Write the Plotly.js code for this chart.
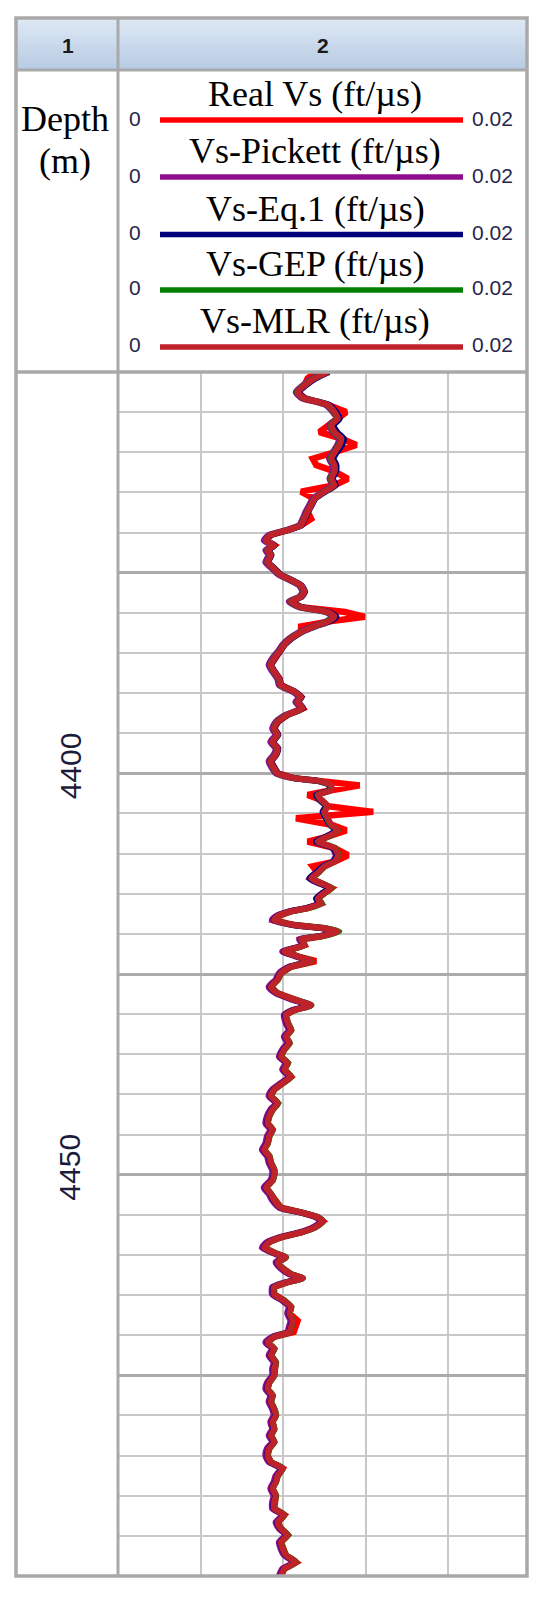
<!DOCTYPE html>
<html><head><meta charset="utf-8">
<script src="https://cdn.plot.ly/plotly-3.0.1.min.js"></script>
<style>html,body{margin:0;padding:0;background:#fff}#chart{width:550px;height:1598px}</style>
</head><body><div id="chart"></div>
<script>
// Depth (m)
const depth = [
4350.0,4350.8,4351.7,4352.5,4353.3,4353.7,4354.1,4355.0,4355.8,4356.6,
4357.5,4358.3,4359.1,4360.0,4360.8,4361.6,4362.4,4363.3,4364.1,4364.9,
4365.8,4366.6,4367.4,4368.3,4369.1,4369.7,4370.3,4371.0,4371.6,4372.2,
4372.8,4373.7,4374.5,4375.3,4375.9,4376.6,4377.4,4378.0,4378.6,4379.3,
4379.9,4380.5,4381.1,4381.7,4382.4,4383.2,4384.0,4384.9,4385.7,4386.5,
4387.3,4388.2,4389.0,4389.8,4390.5,4391.1,4391.9,4392.7,4393.6,4394.4,
4395.2,4396.1,4396.9,4397.7,4398.5,4399.4,4400.0,4400.6,4401.0,4401.5,
4402.1,4402.7,4403.3,4404.1,4404.8,4405.6,4406.4,4407.1,4407.9,4408.5,
4409.3,4410.2,4411.0,4411.6,4412.4,4413.1,4413.7,4414.3,4414.9,4415.6,
4416.2,4416.8,4417.2,4417.8,4418.3,4418.9,4419.3,4419.7,4420.3,4420.7,
4421.4,4422.2,4422.8,4423.4,4424.1,4424.9,4425.7,4426.6,4427.4,4428.2,
4428.9,4429.5,4430.1,4431.1,4432.0,4432.8,4433.6,4434.4,4435.3,4436.1,
4436.9,4437.8,4438.6,4439.4,4440.2,4441.1,4441.9,4442.7,4443.6,4444.4,
4445.2,4446.1,4446.9,4447.7,4448.5,4449.4,4450.0,4450.7,4451.6,4452.4,
4453.2,4454.1,4454.7,4455.3,4455.8,4456.6,4457.2,4457.8,4458.4,4459.1,
4459.9,4460.3,4460.9,4461.5,4462.4,4462.9,4463.4,4464.0,4464.9,4465.7,
4466.5,4467.3,4468.2,4469.0,4469.6,4470.2,4470.9,4471.7,4472.5,4473.4,
4474.2,4475.0,4475.9,4476.7,4477.5,4478.3,4479.2,4480.0,4480.8,4481.7,
4482.5,4483.3,4484.1,4485.0,4485.8,4486.6,4487.5,4488.3,4489.1,4490.0,
4490.8,4491.6,4492.4,4493.3,4494.1,4494.9,4495.8,4496.6,4497.4,4498.3,
4499.1,4500.0];

// Real Vs (ft/us)
const realVs = [
0.00960,0.00918,0.00902,0.00869,0.00906,0.00967,0.01016,0.01106,0.01065,0.01033,
0.00975,0.01082,0.01155,0.01049,0.00943,0.00960,0.01049,0.01114,0.01049,0.00886,
0.00951,0.00935,0.00918,0.00935,0.00886,0.00821,0.00739,0.00715,0.00755,0.00723,
0.00739,0.00723,0.00755,0.00788,0.00837,0.00886,0.00902,0.00886,0.00837,0.00886,
0.01100,0.01196,0.01016,0.00886,0.00886,0.00837,0.00804,0.00780,0.00755,0.00739,
0.00755,0.00780,0.00788,0.00853,0.00886,0.00869,0.00894,0.00821,0.00772,0.00755,
0.00772,0.00747,0.00772,0.00763,0.00739,0.00755,0.00772,0.00853,0.00984,0.01171,
0.01033,0.00918,0.00984,0.01016,0.01237,0.00861,0.01033,0.01106,0.01016,0.00918,
0.01049,0.01114,0.01049,0.00943,0.00967,0.00935,0.00984,0.01033,0.01000,0.00967,
0.00984,0.00918,0.00837,0.00772,0.00755,0.00853,0.01000,0.01065,0.00984,0.00886,
0.00902,0.00804,0.00869,0.00959,0.00837,0.00788,0.00772,0.00739,0.00772,0.00853,
0.00935,0.00853,0.00812,0.00821,0.00837,0.00812,0.00829,0.00804,0.00788,0.00821,
0.00804,0.00837,0.00796,0.00755,0.00739,0.00772,0.00747,0.00731,0.00723,0.00747,
0.00731,0.00723,0.00706,0.00731,0.00739,0.00755,0.00755,0.00747,0.00715,0.00739,
0.00755,0.00788,0.00886,0.00967,0.00992,0.00951,0.00886,0.00788,0.00731,0.00706,
0.00772,0.00812,0.00772,0.00788,0.00837,0.00894,0.00821,0.00755,0.00755,0.00804,
0.00837,0.00829,0.00869,0.00861,0.00850,0.00755,0.00723,0.00755,0.00739,0.00763,
0.00755,0.00755,0.00731,0.00723,0.00747,0.00739,0.00755,0.00763,0.00747,0.00755,
0.00739,0.00755,0.00731,0.00723,0.00739,0.00796,0.00772,0.00763,0.00747,0.00763,
0.00755,0.00755,0.00804,0.00772,0.00788,0.00821,0.00788,0.00796,0.00812,0.00861,
0.00804,0.00788];

// Vs-Pickett (ft/us)
const vsPickett = [
0.01008,0.00940,0.00893,0.00860,0.00890,0.00955,0.01005,0.01040,0.01058,0.01024,
0.01040,0.01070,0.01062,0.01040,0.01022,0.01038,0.01040,0.01024,0.01038,0.00992,
0.00942,0.00925,0.00908,0.00893,0.00876,0.00812,0.00728,0.00704,0.00745,0.00712,
0.00728,0.00712,0.00744,0.00778,0.00826,0.00876,0.00892,0.00876,0.00826,0.00874,
0.01004,0.01038,0.01006,0.00942,0.00876,0.00828,0.00794,0.00770,0.00744,0.00728,
0.00745,0.00770,0.00778,0.00842,0.00876,0.00858,0.00884,0.00812,0.00762,0.00745,
0.00762,0.00736,0.00762,0.00752,0.00728,0.00745,0.00762,0.00842,0.00972,0.01022,
0.01024,0.00958,0.00974,0.01006,0.00990,0.01006,0.01024,0.01054,0.01006,0.00958,
0.01038,0.01054,0.01040,0.00990,0.00958,0.00925,0.00972,0.01022,0.00990,0.00958,
0.00974,0.00908,0.00826,0.00762,0.00744,0.00842,0.00988,0.01054,0.00974,0.00876,
0.00892,0.00794,0.00858,0.00924,0.00826,0.00778,0.00762,0.00728,0.00762,0.00842,
0.00924,0.00842,0.00802,0.00810,0.00826,0.00802,0.00818,0.00794,0.00778,0.00810,
0.00794,0.00826,0.00786,0.00744,0.00728,0.00762,0.00736,0.00720,0.00712,0.00736,
0.00720,0.00712,0.00695,0.00720,0.00728,0.00745,0.00745,0.00736,0.00704,0.00728,
0.00745,0.00778,0.00876,0.00956,0.00982,0.00940,0.00876,0.00778,0.00720,0.00695,
0.00762,0.00802,0.00762,0.00778,0.00826,0.00884,0.00810,0.00745,0.00745,0.00794,
0.00826,0.00818,0.00834,0.00826,0.00818,0.00745,0.00712,0.00745,0.00728,0.00752,
0.00745,0.00745,0.00720,0.00712,0.00736,0.00728,0.00745,0.00752,0.00736,0.00745,
0.00728,0.00745,0.00720,0.00712,0.00728,0.00786,0.00762,0.00752,0.00736,0.00752,
0.00745,0.00745,0.00794,0.00762,0.00778,0.00810,0.00778,0.00786,0.00802,0.00850,
0.00794,0.00778];

// Vs-Eq.1 (ft/us)
const vsEq1 = [
0.01022,0.00958,0.00908,0.00874,0.00906,0.00972,0.01024,0.01058,0.01074,0.01045,
0.01062,0.01094,0.01086,0.01060,0.01044,0.01058,0.01056,0.01040,0.01055,0.01006,
0.00955,0.00938,0.00921,0.00905,0.00889,0.00824,0.00742,0.00718,0.00758,0.00726,
0.00742,0.00726,0.00758,0.00791,0.00840,0.00889,0.00905,0.00890,0.00840,0.00890,
0.01022,0.01058,0.01024,0.00956,0.00890,0.00840,0.00806,0.00782,0.00757,0.00741,
0.00757,0.00782,0.00790,0.00856,0.00889,0.00872,0.00897,0.00824,0.00775,0.00758,
0.00775,0.00750,0.00775,0.00766,0.00742,0.00758,0.00775,0.00855,0.00980,0.01026,
0.01026,0.00958,0.00976,0.01008,0.00992,0.01008,0.01026,0.01058,0.01008,0.00958,
0.01042,0.01060,0.01042,0.00992,0.00958,0.00926,0.00976,0.01026,0.00992,0.00960,
0.00978,0.00912,0.00834,0.00770,0.00753,0.00850,0.00996,0.01062,0.00980,0.00884,
0.00900,0.00802,0.00866,0.00930,0.00834,0.00786,0.00770,0.00737,0.00770,0.00850,
0.00930,0.00850,0.00810,0.00819,0.00835,0.00810,0.00827,0.00802,0.00786,0.00819,
0.00802,0.00835,0.00794,0.00753,0.00737,0.00770,0.00745,0.00729,0.00721,0.00745,
0.00729,0.00721,0.00704,0.00729,0.00737,0.00753,0.00753,0.00745,0.00713,0.00737,
0.00753,0.00786,0.00884,0.00965,0.00990,0.00949,0.00884,0.00786,0.00729,0.00704,
0.00770,0.00810,0.00770,0.00786,0.00835,0.00892,0.00819,0.00753,0.00753,0.00802,
0.00835,0.00827,0.00843,0.00835,0.00827,0.00753,0.00721,0.00753,0.00737,0.00761,
0.00753,0.00753,0.00729,0.00721,0.00745,0.00737,0.00753,0.00761,0.00745,0.00753,
0.00737,0.00753,0.00729,0.00721,0.00737,0.00794,0.00770,0.00761,0.00745,0.00761,
0.00753,0.00753,0.00802,0.00770,0.00786,0.00819,0.00786,0.00794,0.00810,0.00859,
0.00802,0.00786];

// Vs-GEP (ft/us)
const vsGEP = [
0.01012,0.00948,0.00900,0.00866,0.00900,0.00964,0.01013,0.01046,0.01061,0.01030,
0.01046,0.01078,0.01070,0.01046,0.01030,0.01046,0.01046,0.01030,0.01046,0.00998,
0.00950,0.00934,0.00917,0.00900,0.00884,0.00820,0.00738,0.00714,0.00753,0.00722,
0.00738,0.00722,0.00753,0.00786,0.00835,0.00884,0.00900,0.00884,0.00835,0.00884,
0.01012,0.01044,0.01012,0.00948,0.00884,0.00835,0.00802,0.00778,0.00753,0.00738,
0.00753,0.00778,0.00786,0.00851,0.00884,0.00868,0.00892,0.00820,0.00770,0.00753,
0.00770,0.00746,0.00770,0.00761,0.00738,0.00753,0.00770,0.00851,0.00980,0.01030,
0.01030,0.00966,0.00982,0.01013,0.00998,0.01013,0.01030,0.01066,0.01018,0.00970,
0.01052,0.01068,0.01050,0.01002,0.00970,0.00938,0.00986,0.01036,0.01003,0.00970,
0.00988,0.00922,0.00840,0.00774,0.00756,0.00855,0.01006,0.01072,0.00988,0.00888,
0.00904,0.00806,0.00871,0.00937,0.00839,0.00790,0.00774,0.00741,0.00774,0.00855,
0.00937,0.00855,0.00814,0.00823,0.00839,0.00814,0.00831,0.00806,0.00790,0.00823,
0.00806,0.00839,0.00798,0.00757,0.00741,0.00774,0.00749,0.00733,0.00725,0.00749,
0.00733,0.00725,0.00708,0.00733,0.00741,0.00757,0.00757,0.00749,0.00717,0.00741,
0.00757,0.00790,0.00888,0.00969,0.00994,0.00953,0.00888,0.00790,0.00733,0.00708,
0.00774,0.00814,0.00774,0.00790,0.00839,0.00896,0.00823,0.00757,0.00757,0.00806,
0.00839,0.00831,0.00847,0.00839,0.00831,0.00757,0.00725,0.00757,0.00741,0.00765,
0.00757,0.00757,0.00733,0.00725,0.00749,0.00741,0.00757,0.00765,0.00749,0.00757,
0.00741,0.00757,0.00733,0.00725,0.00741,0.00798,0.00774,0.00765,0.00749,0.00765,
0.00757,0.00757,0.00806,0.00774,0.00790,0.00823,0.00790,0.00798,0.00814,0.00863,
0.00806,0.00790];

// Vs-MLR (ft/us)
const vsMLR = [
0.01016,0.00951,0.00902,0.00869,0.00902,0.00967,0.01016,0.01049,0.01065,0.01033,
0.01049,0.01082,0.01073,0.01049,0.01033,0.01049,0.01049,0.01033,0.01049,0.01000,
0.00951,0.00935,0.00918,0.00902,0.00886,0.00821,0.00739,0.00715,0.00755,0.00723,
0.00739,0.00723,0.00755,0.00788,0.00837,0.00886,0.00902,0.00886,0.00837,0.00886,
0.01016,0.01049,0.01016,0.00951,0.00886,0.00837,0.00804,0.00780,0.00755,0.00739,
0.00755,0.00780,0.00788,0.00853,0.00886,0.00869,0.00894,0.00821,0.00772,0.00755,
0.00772,0.00747,0.00772,0.00763,0.00739,0.00755,0.00772,0.00853,0.00984,0.01033,
0.01033,0.00967,0.00984,0.01016,0.01000,0.01016,0.01033,0.01065,0.01016,0.00967,
0.01049,0.01065,0.01049,0.01000,0.00967,0.00935,0.00984,0.01033,0.01000,0.00967,
0.00984,0.00918,0.00837,0.00772,0.00755,0.00853,0.01000,0.01065,0.00984,0.00886,
0.00902,0.00804,0.00869,0.00935,0.00837,0.00788,0.00772,0.00739,0.00772,0.00853,
0.00935,0.00853,0.00812,0.00821,0.00837,0.00812,0.00829,0.00804,0.00788,0.00821,
0.00804,0.00837,0.00796,0.00755,0.00739,0.00772,0.00747,0.00731,0.00723,0.00747,
0.00731,0.00723,0.00706,0.00731,0.00739,0.00755,0.00755,0.00747,0.00715,0.00739,
0.00755,0.00788,0.00886,0.00967,0.00992,0.00951,0.00886,0.00788,0.00731,0.00706,
0.00772,0.00812,0.00772,0.00788,0.00837,0.00894,0.00821,0.00755,0.00755,0.00804,
0.00837,0.00829,0.00845,0.00837,0.00829,0.00755,0.00723,0.00755,0.00739,0.00763,
0.00755,0.00755,0.00731,0.00723,0.00747,0.00739,0.00755,0.00763,0.00747,0.00755,
0.00739,0.00755,0.00731,0.00723,0.00739,0.00796,0.00772,0.00763,0.00747,0.00763,
0.00755,0.00755,0.00804,0.00772,0.00788,0.00821,0.00788,0.00796,0.00812,0.00861,
0.00804,0.00788];

const seriesNames = ['Real Vs (ft/µs)', 'Vs-Pickett (ft/µs)', 'Vs-Eq.1 (ft/µs)', 'Vs-GEP (ft/µs)', 'Vs-MLR (ft/µs)'];
const seriesValues = [realVs, vsPickett, vsEq1, vsGEP, vsMLR];
const seriesColors = ['#ff0000', '#8e0c8e', '#00007a', '#008000', '#bf222a'];
const scaleLeft = '0', scaleRight = '0.02';
const depthLabels = [4400, 4450];
const headerLabels = ['1', '2'];

const W = 550, H = 1598;
const px = x => x / W, py = y => 1 - y / H;
const border = '#a9a9a9';

const traces = seriesValues.map((v, i) => ({
  type: 'scatter', mode: 'lines', x: v, y: depth, name: seriesNames[i],
  line: i === 0 ? {color: seriesColors[i], width: 6.5}
                : {color: seriesColors[i], width: 6, shape: 'spline', smoothing: 0.6},
  hoverinfo: 'skip', showlegend: false
}));

const shapes = [];
// header gradient band
const nStrips = 16, hTop = 19, hBot = 70;
const c0 = [221, 232, 244], c1 = [184, 204, 228];
for (let k = 0; k < nStrips; k++) {
  const t = k / (nStrips - 1);
  const c = c0.map((a, j) => Math.round(a + (c1[j] - a) * t));
  shapes.push({type: 'rect', xref: 'paper', yref: 'paper', layer: 'below',
    x0: px(16), x1: px(527), y0: py(hTop + (hBot - hTop) * k / nStrips - 0.6), y1: py(hTop + (hBot - hTop) * (k + 1) / nStrips + 0.6),
    fillcolor: `rgb(${c[0]},${c[1]},${c[2]})`, line: {width: 0}});
}
// mask grid overhang right of the frame
shapes.push({type: 'rect', xref: 'paper', yref: 'paper', x0: px(528), x1: px(540), y0: py(372), y1: py(1580),
  fillcolor: '#fff', line: {width: 0}});
const hline = (y, x0, x1, w, col) => shapes.push({type: 'line', xref: 'paper', yref: 'paper', x0: px(x0), x1: px(x1), y0: py(y), y1: py(y), line: {color: col || border, width: w}});
const vline = (x, y0, y1, w, col) => shapes.push({type: 'line', xref: 'paper', yref: 'paper', x0: px(x), x1: px(x), y0: py(y0), y1: py(y1), line: {color: col || border, width: w}});
hline(70, 16, 527, 3);
hline(372, 16, 527, 3.5);
vline(118, 18, 1576, 3);
shapes.push({type: 'rect', xref: 'paper', yref: 'paper', x0: px(16), x1: px(527), y0: py(18), y1: py(1576), line: {color: border, width: 3.5}});

const legendY = [120, 177, 234.5, 290, 347];
const annotations = [];
const serif = 'Liberation Serif, Times New Roman, serif';
const sans = 'Liberation Sans, Arial, sans-serif';
const note = (x, y, text, font, extra) => annotations.push(Object.assign({xref: 'paper', yref: 'paper', x: px(x), y: py(y),
  text, showarrow: false, xanchor: 'center', yanchor: 'middle', font}, extra || {}));
legendY.forEach((y, i) => {
  hline(y, 160, 463, 5.5, seriesColors[i]);
  note(315, y - 26, seriesNames[i], {family: serif, size: 36, color: '#000'});
  note(135, y - 2, scaleLeft, {family: sans, size: 21, color: '#26264a'});
  note(492, y - 2, scaleRight, {family: sans, size: 21, color: '#26264a'});
});
note(68, 46, headerLabels[0], {family: sans, size: 21, color: '#1a1a1a', weight: 'bold'});
note(323, 46, headerLabels[1], {family: sans, size: 21, color: '#1a1a1a', weight: 'bold'});
note(65, 119, 'Depth', {family: serif, size: 36, color: '#000'});
note(65, 161, '(m)', {family: serif, size: 36, color: '#000'});
depthLabels.forEach(d => annotations.push({xref: 'paper', yref: 'y', x: px(70), y: d, yshift: 8, text: String(d),
  textangle: -90, showarrow: false, xanchor: 'center', yanchor: 'middle', font: {family: sans, size: 30, color: '#1c1c3a'}}));

const layout = {
  width: W, height: H, margin: {l: 0, r: 0, t: 0, b: 0},
  paper_bgcolor: '#fff', plot_bgcolor: 'rgba(0,0,0,0)', showlegend: false,
  xaxis: {domain: [px(119), px(530)], range: [0, 0.02], dtick: 0.004, tick0: 0, showticklabels: false, ticks: '',
    showgrid: true, gridcolor: '#c8c8c8', gridwidth: 2, zeroline: false, showline: false, fixedrange: true},
  yaxis: {domain: [py(1576), py(372)], range: [4500, 4350], dtick: 25, tick0: 4350, showticklabels: false, ticks: '',
    showgrid: true, gridcolor: '#ababab', gridwidth: 3, zeroline: false, showline: false, fixedrange: true,
    minor: {dtick: 5, tick0: 4350, showgrid: true, gridcolor: '#c8c8c8', gridwidth: 2, ticks: ''}},
  shapes, annotations
};
Plotly.newPlot('chart', traces, layout, {staticPlot: true, displayModeBar: false});
</script></body></html>
